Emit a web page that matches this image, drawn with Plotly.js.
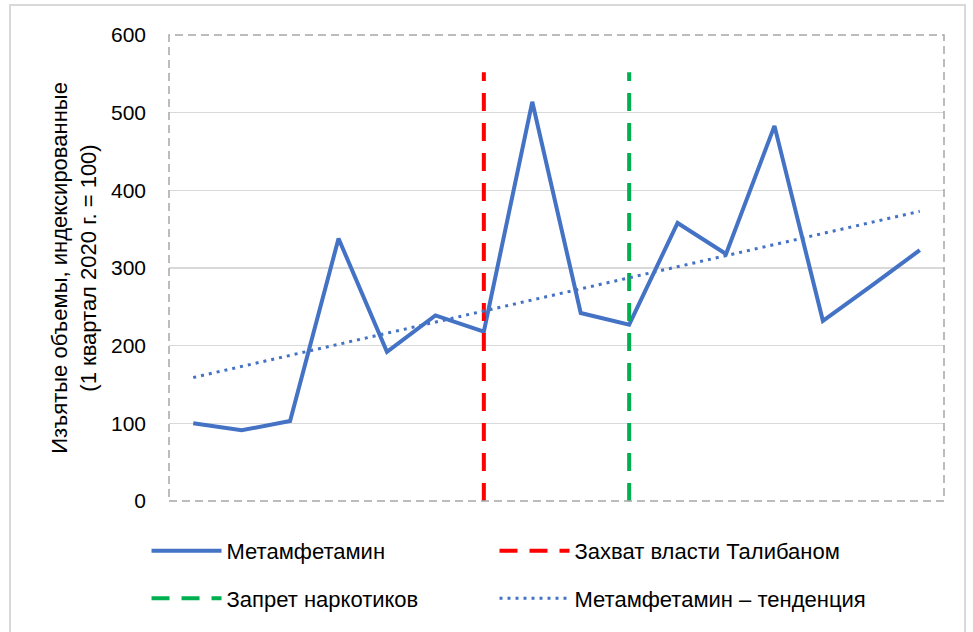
<!DOCTYPE html>
<html>
<head>
<meta charset="utf-8">
<script src="https://cdn.plot.ly/plotly-3.0.1.min.js"></script>
<style>
html,body{margin:0;padding:0;background:#fff;overflow:hidden;}
#frame{position:absolute;left:9px;top:4px;width:957px;height:700px;border:2px solid #d9d9d9;box-sizing:border-box;pointer-events:none;z-index:5;}
#chart{position:absolute;left:0;top:0;width:973px;height:632px;}
</style>
</head>
<body>
<div id="chart"></div>
<div id="frame"></div>
<script>
// Quarters Q1 2020 – Q4 2023
var quarters = ['1 кв. 2020','2 кв. 2020','3 кв. 2020','4 кв. 2020',
                '1 кв. 2021','2 кв. 2021','3 кв. 2021','4 кв. 2021',
                '1 кв. 2022','2 кв. 2022','3 кв. 2022','4 кв. 2022',
                '1 кв. 2023','2 кв. 2023','3 кв. 2023','4 кв. 2023'];
// Methamphetamine seizures, indexed (Q1 2020 = 100)
var methValues = [100, 91, 103, 338, 192, 239, 218, 514, 242, 227, 358, 318, 483, 232, 277, 323];
// Trend line endpoints (first and last quarter)
var trendQuarters = ['1 кв. 2020', '4 кв. 2023'];
var trendValues = [159, 373];
// Event markers
var talibanQuarter = '3 кв. 2021';
var banQuarter = '2 кв. 2022';
var eventLineRange = [0, 552];
var yTicks = [0, 100, 200, 300, 400, 500, 600];

var font = 'Liberation Sans, Arial, sans-serif';

var traces = [
  {x: quarters, y: methValues, type: 'scatter', mode: 'lines', name: 'Метамфетамин',
   line: {color: '#4472C4', width: 4}, legend: 'legend', legendgroup: 'a', legendrank: 1},
  {x: [talibanQuarter, talibanQuarter], y: eventLineRange, type: 'scatter', mode: 'lines',
   name: 'Захват власти Талибаном', line: {color: '#FF0000', width: 4, dash: '18px,12px'},
   legend: 'legend2', legendgroup: 'c', legendrank: 1},
  {x: [banQuarter, banQuarter], y: eventLineRange, type: 'scatter', mode: 'lines',
   name: 'Запрет наркотиков', line: {color: '#00B050', width: 4, dash: '18px,12px'},
   legend: 'legend', legendgroup: 'b', legendrank: 2},
  {x: trendQuarters, y: trendValues, type: 'scatter', mode: 'lines',
   name: 'Метамфетамин – тенденция', line: {color: '#4472C4', width: 3, dash: '3px,5px'},
   legend: 'legend2', legendgroup: 'd', legendrank: 2}
];

var legendCommon = {
  orientation: 'v', xanchor: 'left', yanchor: 'top', y: -0.062,
  font: {family: font, size: 22, color: '#000'},
  itemwidth: 70, tracegroupgap: 16, bgcolor: 'rgba(0,0,0,0)', traceorder: 'grouped',
  itemclick: false
};

var layout = {
  width: 973, height: 632,
  margin: {l: 169, r: 29, t: 35, b: 129},
  paper_bgcolor: '#fff', plot_bgcolor: '#fff',
  font: {family: font, size: 21, color: '#000'},
  showlegend: true,
  xaxis: {type: 'category', categoryorder: 'array', categoryarray: quarters,
          range: [-0.5, 15.5], showticklabels: false, showgrid: false, zeroline: false,
          showline: false, ticks: ''},
  yaxis: {range: [0, 600], tickvals: yTicks, showgrid: true, gridcolor: '#d9d9d9', gridwidth: 1.3,
          zeroline: false, showline: false, ticks: '', tickfont: {family: font, size: 21, color: '#000'},
          ticklabelstandoff: 22,
          title: {text: 'Изъятые объемы, индексированные<br>(1 квартал 2020 г. = 100)',
                  font: {family: font, size: 22, color: '#000'}, standoff: 8}},
  legend: Object.assign({}, legendCommon, {x: -0.029}),
  legend2: Object.assign({}, legendCommon, {x: 0.42}),
  shapes: [
    {type: 'rect', xref: 'paper', yref: 'paper', x0: 0, x1: 1, y0: 0, y1: 1,
     line: {color: '#a6a6a6', width: 1.5, dash: '8px,5px'}, layer: 'above'}
  ]
};

Plotly.newPlot('chart', traces, layout, {displayModeBar: false, staticPlot: true});
</script>
</body>
</html>
